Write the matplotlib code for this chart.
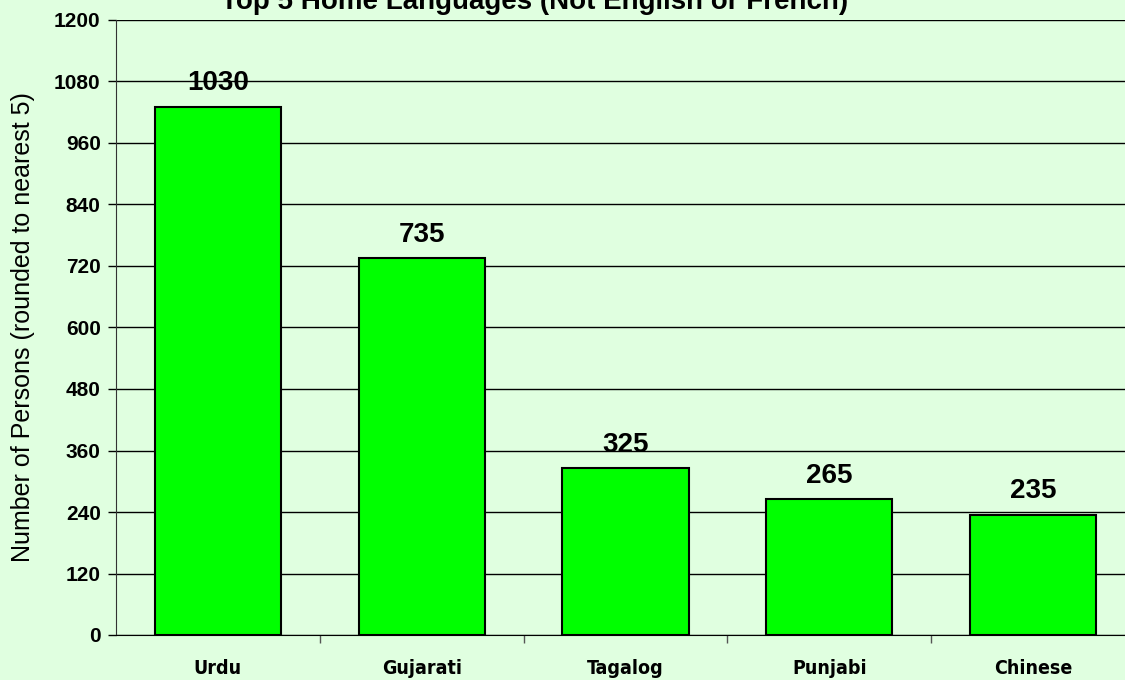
import matplotlib.pyplot as plt
from matplotlib import font_manager

languages = ['Urdu', 'Gujarati', 'Tagalog', 'Punjabi', 'Chinese']
persons = [1030, 735, 325, 265, 235]
yticks = [0, 120, 240, 360, 480, 600, 720, 840, 960, 1080, 1200]

bg = '#e0ffe0'
plt.rcParams['font.family'] = ['Liberation Sans', 'DejaVu Sans']

# schmale Schrift fuer die Kategorien, falls vorhanden
fonts = font_manager.fontManager.ttflist
names = {f.name for f in fonts}
if 'Liberation Sans Narrow' in names:
    narrow, stretch = 'Liberation Sans Narrow', 'normal'
elif any(f.name == 'DejaVu Sans' and f.stretch == 'condensed' for f in fonts):
    narrow, stretch = 'DejaVu Sans', 'condensed'
else:
    narrow, stretch = 'Liberation Sans', 'normal'

fig = plt.figure(figsize=(11.25, 6.8), dpi=100, facecolor=bg)
ax = fig.add_axes([116 / 1125, 1 - 635 / 680, (1135 - 116) / 1125, 615 / 680])
ax.set_facecolor(bg)

x = range(len(languages))
ax.bar(x, persons, width=0.62, color='#00ff00', edgecolor='black', linewidth=1.5, zorder=3)

for i, v in enumerate(persons):
    ax.annotate(str(v), (i, v), xytext=(0, 12), textcoords='offset points',
                ha='center', va='baseline', fontsize=20, fontweight='bold', zorder=4)

ax.set_xlim(-0.5, len(languages) - 0.5)
ax.set_ylim(0, 1200)
ax.set_yticks(yticks)
ax.set_yticklabels([str(t) for t in yticks], fontsize=15, fontweight='bold')
ax.yaxis.grid(True, color='black', linewidth=1.0, zorder=0)

# Kategoriebeschriftung ohne Ticks, Ticks zwischen den Kategorien
ax.set_xticks([i + 0.5 for i in range(len(languages) - 1)])
ax.set_xticklabels([])
ax.set_xticks(list(x), minor=True)
ax.set_xticklabels(languages, minor=True, fontsize=14, fontweight='bold',
                   family=narrow, fontstretch=stretch)
ax.tick_params(axis='x', which='minor', length=0, pad=17)
ax.tick_params(axis='x', which='major', length=6, width=1, color='#555555')
ax.tick_params(axis='y', length=6, width=1, pad=5)

for s in ['top', 'right']:
    ax.spines[s].set_visible(False)
ax.spines['left'].set_color('#333333')
ax.spines['bottom'].set_color('black')

ax.set_ylabel('Number of Persons (rounded to nearest 5)', fontsize=18)
ax.yaxis.set_label_coords(-0.079, 0.5)

fig.text(535 / 1125, 1 - 9 / 680, 'Top 5 Home Languages (Not English or French)',
         ha='center', va='baseline', fontsize=20, fontweight='bold')

fig.savefig('out.png', dpi=100, facecolor=bg)
